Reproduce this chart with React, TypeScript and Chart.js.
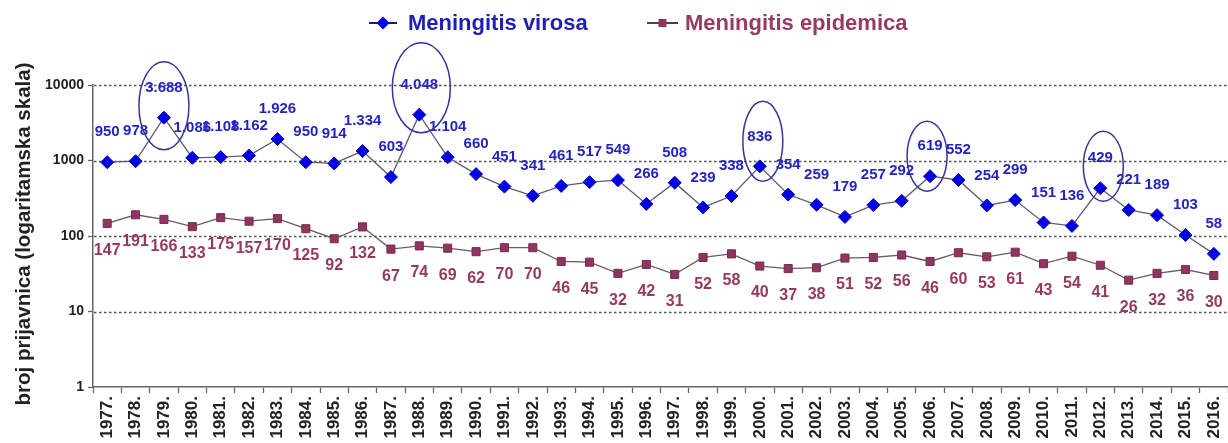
import { useEffect, useRef } from "react";
import { Chart, registerables } from "chart.js";

Chart.register(...registerables);

const years = [
  "1977.", "1978.", "1979.", "1980.", "1981.", "1982.", "1983.", "1984.", "1985.", "1986.",
  "1987.", "1988.", "1989.", "1990.", "1991.", "1992.", "1993.", "1994.", "1995.", "1996.",
  "1997.", "1998.", "1999.", "2000.", "2001.", "2002.", "2003.", "2004.", "2005.", "2006.",
  "2007.", "2008.", "2009.", "2010.", "2011.", "2012.", "2013.", "2014.", "2015.", "2016.",
];

const virosa = [
  950, 978, 3688, 1086, 1108, 1162, 1926, 950, 914, 1334,
  603, 4048, 1104, 660, 451, 341, 461, 517, 549, 266,
  508, 239, 338, 836, 354, 259, 179, 257, 292, 619,
  552, 254, 299, 151, 136, 429, 221, 189, 103, 58,
];

const epidemica = [
  147, 191, 166, 133, 175, 157, 170, 125, 92, 132,
  67, 74, 69, 62, 70, 70, 46, 45, 32, 42,
  31, 52, 58, 40, 37, 38, 51, 52, 56, 46,
  60, 53, 61, 43, 54, 41, 26, 32, 36, 30,
];

const yTickValues = [1, 10, 100, 1000, 10000];
const gridValues = [10, 100, 1000, 10000];
const highlightedYears = ["1979.", "1988.", "2000.", "2006.", "2012."];

const seriesNames = ["Meningitis virosa", "Meningitis epidemica"];
const yTitle = "broj prijavnica (logaritamska skala)";

// drawing styles for the highlight ellipses (relative to their point)
const ellipseStyles = [
  { dx: 0, dy: -12, rx: 25, ry: 44 },
  { dx: 2, dy: -27, rx: 29, ry: 45 },
  { dx: 3, dy: -25, rx: 20, ry: 40 },
  { dx: -3, dy: -20, rx: 20, ry: 35 },
  { dx: 3, dy: -22, rx: 20, ry: 35 },
];

const FONT = '"Liberation Sans", Arial, Helvetica, sans-serif';
const BLUE = "#0000E6";
const BLUE_TEXT = "#2424C0";
const MAROON = "#8E3560";
const MAROON_TEXT = "#94395F";

const fmt = (v: number) =>
  v >= 1000 ? String(v).replace(/\B(?=(\d{3})+(?!\d))/g, ".") : String(v);

const overlay = {
  id: "overlay",
  beforeDatasetsDraw(chart: any) {
    const { ctx, chartArea, scales } = chart;
    const y = scales.y;
    ctx.save();
    ctx.strokeStyle = "#555";
    ctx.lineWidth = 1.4;
    ctx.setLineDash([2.5, 2.5]);
    for (const v of gridValues) {
      const py = Math.round(y.getPixelForValue(v)) + 0.5;
      ctx.beginPath();
      ctx.moveTo(chartArea.left + 1, py);
      ctx.lineTo(chartArea.right, py);
      ctx.stroke();
    }
    ctx.restore();
  },
  afterDatasetsDraw(chart: any) {
    const { ctx } = chart;
    ctx.save();
    ctx.textAlign = "center";
    ctx.textBaseline = "middle";
    const m0 = chart.getDatasetMeta(0);
    ctx.font = `bold 15px ${FONT}`;
    ctx.fillStyle = BLUE_TEXT;
    m0.data.forEach((pt: any, i: number) => {
      ctx.fillText(fmt(virosa[i]), pt.x, pt.y - 30);
    });
    const m1 = chart.getDatasetMeta(1);
    ctx.font = `bold 16px ${FONT}`;
    ctx.fillStyle = MAROON_TEXT;
    m1.data.forEach((pt: any, i: number) => {
      ctx.fillText(fmt(epidemica[i]), pt.x, pt.y + 27);
    });
    ctx.strokeStyle = "#34349A";
    ctx.lineWidth = 1.5;
    highlightedYears.forEach((yr, k) => {
      const i = years.indexOf(yr);
      const pt = m0.data[i];
      const s = ellipseStyles[k];
      ctx.beginPath();
      ctx.ellipse(pt.x + s.dx, pt.y + s.dy, s.rx, s.ry, 0, 0, Math.PI * 2);
      ctx.stroke();
    });
    ctx.restore();
  },
  afterDraw(chart: any) {
    const { ctx, chartArea } = chart;
    ctx.save();
    ctx.translate(24, (chartArea.top + chartArea.bottom) / 2 - 2);
    ctx.rotate(-Math.PI / 2);
    ctx.font = `bold 20.5px ${FONT}`;
    ctx.fillStyle = "#222";
    ctx.textAlign = "center";
    ctx.textBaseline = "middle";
    ctx.fillText(yTitle, 0, 0);
    ctx.restore();

    ctx.save();
    const ly = 23;
    ctx.font = `bold 22px ${FONT}`;
    ctx.textBaseline = "middle";
    ctx.textAlign = "left";
    ctx.strokeStyle = "#1a1a70";
    ctx.lineWidth = 2;
    ctx.beginPath();
    ctx.moveTo(369, ly);
    ctx.lineTo(397, ly);
    ctx.stroke();
    ctx.fillStyle = BLUE;
    ctx.beginPath();
    ctx.moveTo(383 - 6.5, ly);
    ctx.lineTo(383, ly - 6.5);
    ctx.lineTo(383 + 6.5, ly);
    ctx.lineTo(383, ly + 6.5);
    ctx.closePath();
    ctx.fill();
    ctx.fillStyle = "#1F1FB3";
    ctx.fillText(seriesNames[0], 408, ly + 1);
    ctx.strokeStyle = "#5a3a4a";
    ctx.beginPath();
    ctx.moveTo(647, ly);
    ctx.lineTo(678, ly);
    ctx.stroke();
    ctx.fillStyle = MAROON;
    ctx.fillRect(662.5 - 4, ly - 4, 8, 8);
    ctx.fillStyle = "#9A3A64";
    ctx.fillText(seriesNames[1], 685, ly + 1);
    ctx.restore();
  },
};

export default function App() {
  const ref = useRef<HTMLCanvasElement | null>(null);
  useEffect(() => {
    if (!ref.current) return;
    const chart = new Chart(ref.current, {
      type: "line",
      data: {
        labels: years,
        datasets: [
          {
            label: seriesNames[0],
            data: virosa,
            borderColor: "#5c5c6c",
            borderWidth: 1.3,
            pointStyle: "rectRot",
            pointRadius: 6.5,
            pointBackgroundColor: BLUE,
            pointBorderColor: "#0000B8",
            pointBorderWidth: 1,
            tension: 0,
          },
          {
            label: seriesNames[1],
            data: epidemica,
            borderColor: "#6a5a62",
            borderWidth: 1.3,
            pointStyle: "rect",
            pointRadius: 5.7,
            pointBackgroundColor: MAROON,
            pointBorderColor: "#7a2a50",
            pointBorderWidth: 1,
            tension: 0,
          },
        ],
      },
      options: {
        responsive: false,
        animation: false,
        layout: { autoPadding: false, padding: { top: 85, right: 0, left: 0, bottom: 0 } },
        plugins: {
          legend: { display: false },
          tooltip: { enabled: false },
        },
        scales: {
          x: {
            type: "category",
            offset: true,
            grid: {
              display: true,
              drawOnChartArea: false,
              drawTicks: true,
              tickLength: 6,
              tickColor: "#666",
              tickWidth: 1.3,
              offset: true,
            },
            border: { display: true, color: "#666", width: 1.5 },
            ticks: {
              color: "#222",
              font: { family: FONT, size: 17, weight: "bold" },
              minRotation: 90,
              maxRotation: 90,
              autoSkip: false,
              padding: 3,
            },
            afterFit(s: any) {
              s.height = 56;
              s.paddingRight = 0;
              s.paddingLeft = 0;
            },
          },
          y: {
            type: "logarithmic",
            min: 1,
            max: 10000,
            afterBuildTicks(s: any) {
              s.ticks = yTickValues.map((v) => ({ value: v }));
            },
            grid: {
              drawOnChartArea: false,
              drawTicks: true,
              tickLength: 5,
              tickColor: "#666",
              tickWidth: 1.3,
            },
            border: { display: true, color: "#666", width: 1.5 },
            ticks: {
              color: "#222",
              font: { family: FONT, size: 14, weight: "bold" },
              padding: 4,
              callback: (v: any) => String(v),
            },
            afterFit(s: any) {
              s.width = 93;
            },
          },
        },
      },
      plugins: [overlay],
    } as any);
    return () => chart.destroy();
  }, []);

  return (
    <div style={{ position: "fixed", left: 0, top: 0, width: 1228, height: 443, background: "#fff" }}>
      <canvas ref={ref} width={1228} height={443} />
    </div>
  );
}
